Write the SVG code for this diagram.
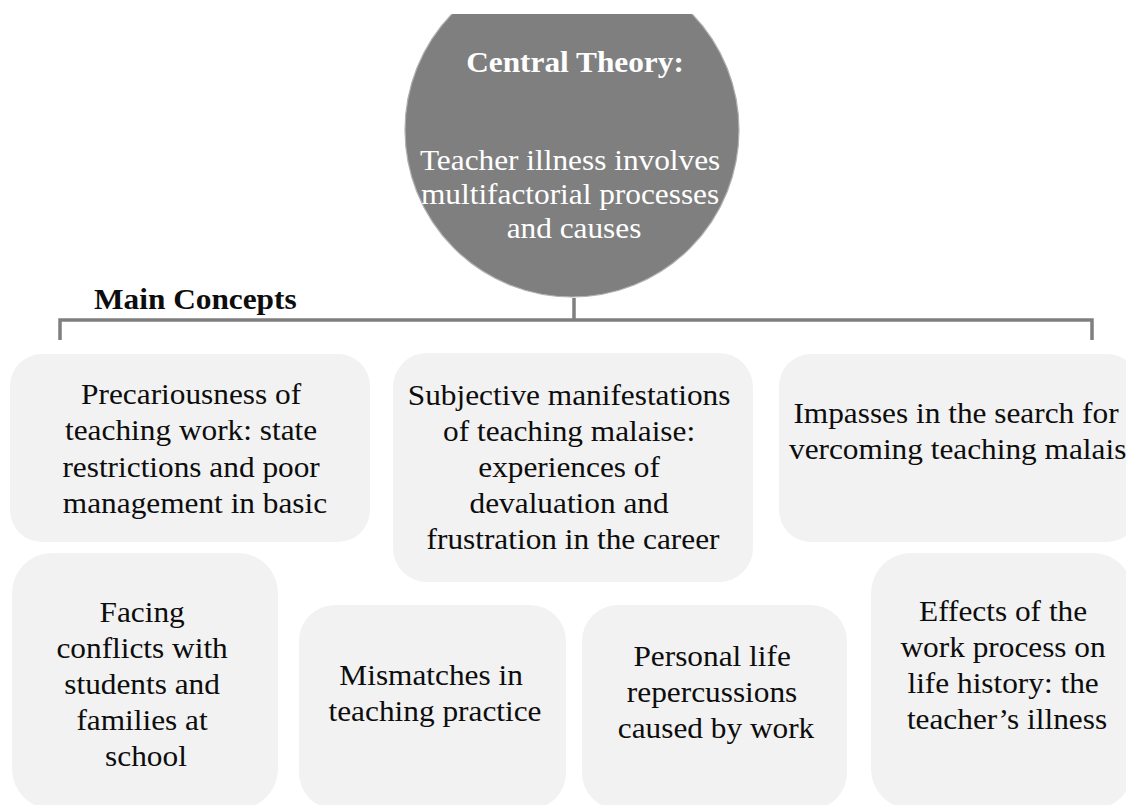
<svg xmlns="http://www.w3.org/2000/svg" width="1126" height="805" viewBox="0 0 1126 805">
  <style>
    .box { fill: #f2f2f2; }
    .lbl { font-family: "Liberation Serif", "Times New Roman", serif; font-size: 29px; fill: #0d0d0d; text-anchor: middle; }
    .hub { font-family: "Liberation Serif", "Times New Roman", serif; font-size: 29px; fill: #ffffff; text-anchor: middle; }
    .bold { font-weight: bold; }
    .conn { fill: none; stroke: #7f7f7f; stroke-width: 3.5; stroke-linecap: butt; }
  </style>
  <defs>
    <clipPath id="topClip">
      <rect x="0" y="14" width="1126" height="791"/>
    </clipPath>
  </defs>
  <rect width="1126" height="805" fill="#ffffff"/>

  <!-- central theory hub -->
  <g id="central">
    <circle cx="572" cy="130" r="167" fill="#7f7f7f" stroke="#b0b0b0" stroke-width="1.2" clip-path="url(#topClip)"/>
    <text class="hub bold" transform="matrix(1.08 0 0 1 575 72)" x="0" y="0">Central Theory:</text>
    <text class="hub" transform="matrix(1.08 0 0 1 574 0)">
      <tspan x="0" y="170">Teacher illness involves</tspan>
      <tspan x="0" y="204">multifactorial processes</tspan>
      <tspan x="0" y="238">and causes</tspan>
    </text>
  </g>

  <!-- bracket linking hub to the concepts -->
  <g id="connectors">
    <path class="conn" d="M574,298 V320"/>
    <path class="conn" d="M60,340 V320 H1092 V340"/>
  </g>

  <g id="heading">
    <text class="lbl bold" style="text-anchor:start" transform="matrix(1.08 0 0 1 94 309)" x="0" y="0">Main Concepts</text>
  </g>

  <g id="precariousness">
    <rect class="box" x="10" y="354" width="360" height="188" rx="32"/>
    <text class="lbl" transform="matrix(1.08 0 0 1 195 0)">
      <tspan x="0" y="404">Precariousness of</tspan>
      <tspan x="0" y="440.5">teaching work: state</tspan>
      <tspan x="0" y="477">restrictions and poor</tspan>
      <tspan x="0" y="513.5">management in basic</tspan>
    </text>
  </g>

  <g id="subjective">
    <rect class="box" x="393" y="353" width="360" height="229" rx="34"/>
    <text class="lbl" transform="matrix(1.08 0 0 1 573 0)">
      <tspan x="0" y="405">Subjective manifestations</tspan>
      <tspan x="0" y="441">of teaching malaise:</tspan>
      <tspan x="0" y="477">experiences of</tspan>
      <tspan x="0" y="513">devaluation and</tspan>
      <tspan x="0" y="549">frustration in the career</tspan>
    </text>
  </g>

  <g id="impasses">
    <rect class="box" x="779" y="354" width="360" height="188" rx="32"/>
    <text class="lbl" transform="matrix(1.08 0 0 1 956 0)">
      <tspan x="0" y="423">Impasses in the search for</tspan>
    </text>
    <text class="lbl" style="text-anchor:start" transform="matrix(1.08 0 0 1 789 459)" x="0" y="0">vercoming teaching malais</text>
  </g>

  <g id="conflicts">
    <rect class="box" x="12" y="553" width="266" height="256" rx="40"/>
    <text class="lbl" transform="matrix(1.08 0 0 1 146 0)">
      <tspan x="0" y="622">Facing</tspan>
      <tspan x="0" y="658">conflicts with</tspan>
      <tspan x="0" y="694">students and</tspan>
      <tspan x="0" y="730">families at</tspan>
      <tspan x="0" y="766">school</tspan>
    </text>
  </g>

  <g id="mismatches">
    <rect class="box" x="299" y="605" width="267" height="204" rx="36"/>
    <text class="lbl" transform="matrix(1.08 0 0 1 435 0)">
      <tspan x="0" y="685">Mismatches in</tspan>
      <tspan x="0" y="721">teaching practice</tspan>
    </text>
  </g>

  <g id="repercussions">
    <rect class="box" x="582" y="605" width="265" height="204" rx="36"/>
    <text class="lbl" transform="matrix(1.08 0 0 1 716 0)">
      <tspan x="0" y="666">Personal life</tspan>
      <tspan x="0" y="702">repercussions</tspan>
      <tspan x="0" y="738">caused by work</tspan>
    </text>
  </g>

  <g id="effects">
    <rect class="box" x="871" y="553" width="262" height="256" rx="40"/>
    <text class="lbl" transform="matrix(1.08 0 0 1 1007 0)">
      <tspan x="0" y="621">Effects of the</tspan>
      <tspan x="0" y="657">work process on</tspan>
      <tspan x="0" y="693">life history: the</tspan>
      <tspan x="0" y="729">teacher’s illness</tspan>
    </text>
  </g>
</svg>
